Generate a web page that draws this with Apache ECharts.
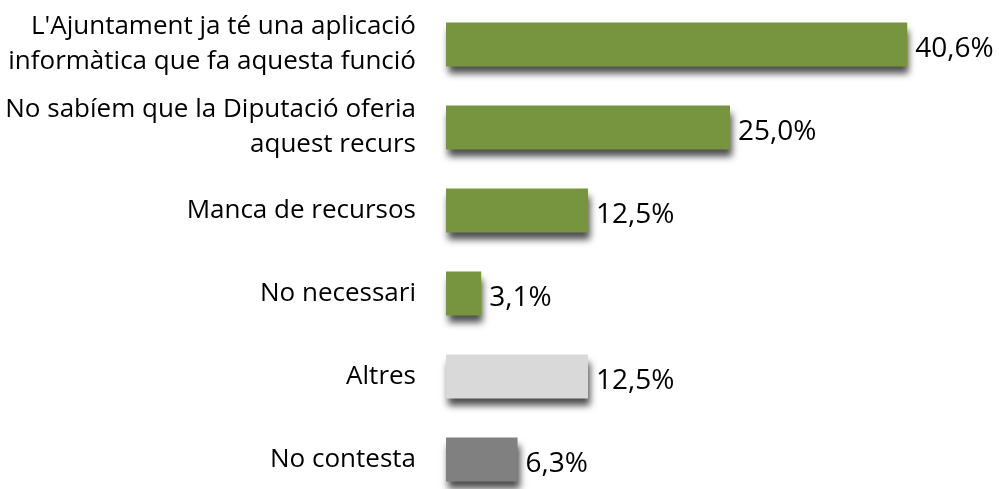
<!DOCTYPE html>
<html>
<head>
<meta charset="utf-8">
<script src="https://cdn.jsdelivr.net/npm/echarts@6/dist/echarts.min.js"></script>
<style>
  html, body { margin: 0; padding: 0; background: #fff; }
  #chart { width: 999px; height: 489px; }
</style>
</head>
<body>
<div id="chart"></div>
<script>
const categories = [
  "L'Ajuntament ja té una aplicació\ninformàtica que fa aquesta funció",
  "No sabíem que la Diputació oferia\naquest recurs",
  "Manca de recursos",
  "No necessari",
  "Altres",
  "No contesta",
];
const values = [40.6, 25.0, 12.5, 3.1, 12.5, 6.3];

// green for the reasons, greys for "Altres" and "No contesta"
const barColors = ["#77953f", "#77953f", "#77953f", "#77953f", "#d9d9d9", "#808080"];

const chart = echarts.init(document.getElementById("chart"));

const option = {
  animation: false,
  grid: {
    left: 446,
    top: 3,
    width: 568,
    height: 498,
    outerBoundsMode: "none",
  },
  xAxis: {
    type: "value",
    min: 0,
    max: 50,
    show: false,
  },
  yAxis: {
    type: "category",
    inverse: true,
    data: categories,
    axisLine: { show: false },
    axisTick: { show: false },
    axisLabel: {
      margin: 30,
      align: "right",
      color: "#000",
      fontFamily: "Open Sans",
      fontSize: 26,
      lineHeight: 35,
    },
  },
  series: [
    {
      type: "bar",
      barWidth: 44,
      data: values.map((v, i) => ({
        value: v,
        itemStyle: { color: barColors[i] },
      })),
      itemStyle: {
        shadowColor: "rgba(0, 0, 0, 0.7)",
        shadowBlur: 7,
        shadowOffsetX: 2,
        shadowOffsetY: 7,
      },
      label: {
        show: true,
        position: "right",
        distance: 8,
        color: "#000",
        fontFamily: "Open Sans",
        fontSize: 28,
        offset: [0, 5],
        formatter: (p) => p.value.toFixed(1).replace(".", ",") + "%",
      },
    },
  ],
};

chart.setOption(option);
</script>
</body>
</html>
